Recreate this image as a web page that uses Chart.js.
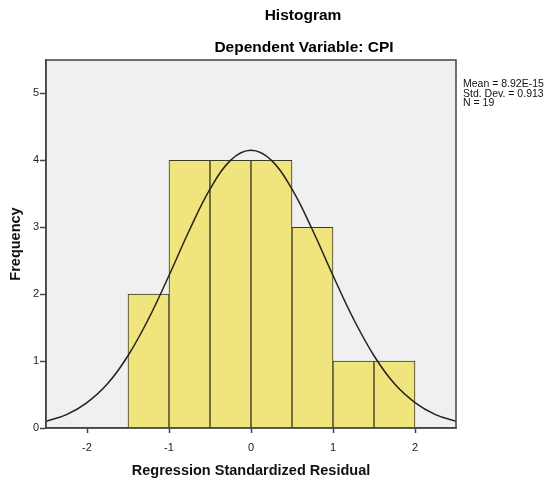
<!DOCTYPE html>
<html>
<head>
<meta charset="utf-8">
<script src="https://cdn.jsdelivr.net/npm/chart.js@4/dist/chart.umd.min.js"></script>
<style>
html,body{margin:0;padding:0;background:#fff;}
#wrap{width:550px;height:481px;}
</style>
</head>
<body>
<div id="wrap"><canvas id="c" width="550" height="481"></canvas></div>
<script>
// Histogram bins (centers) and frequencies
const binCenters = [-1.25, -0.75, -0.25, 0.25, 0.75, 1.25, 1.75];
const frequencies = [2, 4, 4, 4, 3, 1, 1];
// Normal curve points
const curveX = [-2.5,-2.25,-2,-1.75,-1.5,-1.25,-1,-0.75,-0.5,-0.25,0,0.25,0.5,0.75,1,1.25,1.5,1.75,2,2.25,2.5];
const curveY = [0.10,0.20,0.38,0.66,1.08,1.63,2.28,2.96,3.57,4.00,4.15,4.00,3.57,2.96,2.28,1.63,1.08,0.66,0.38,0.20,0.10];
const xTicks = [-2, -1, 0, 1, 2];
const yTicks = [0, 1, 2, 3, 4, 5];
const titleText = "Histogram";
const subtitleText = "Dependent Variable: CPI";
const statsLines = ["Mean = 8.92E-15", "Std. Dev. = 0.913", "N = 19"];

const FONT = "'Liberation Sans', Arial, sans-serif";

const decor = {
  id: 'decor',
  beforeDraw(chart) {
    const {ctx, chartArea: a} = chart;
    ctx.save();
    ctx.fillStyle = '#f0f0f0';
    ctx.fillRect(a.left, a.top, a.right - a.left, a.bottom - a.top);
    ctx.restore();
  },
  afterDraw(chart) {
    const {ctx, chartArea: a} = chart;
    ctx.save();
    ctx.strokeStyle = '#444';
    ctx.lineWidth = 1.5;
    ctx.strokeRect(a.left, a.top, a.right - a.left, a.bottom - a.top);
    ctx.fillStyle = '#000';
    ctx.textAlign = 'center';
    ctx.textBaseline = 'middle';
    ctx.font = "bold 15.5px " + FONT;
    ctx.fillText(titleText, 303, 16);
    ctx.fillText(subtitleText, 304, 48);
    ctx.textAlign = 'left';
    ctx.font = "10.5px " + FONT;
    ctx.fillStyle = '#111';
    statsLines.forEach((s, i) => ctx.fillText(s, 463, 84 + i * 9.8));
    ctx.restore();
  }
};

new Chart(document.getElementById('c'), {
  type: 'bar',
  data: {
    datasets: [
      {
        type: 'line',
        data: curveX.map((x, i) => ({x: x, y: curveY[i]})),
        borderColor: '#222',
        borderWidth: 1.5,
        pointRadius: 0,
        tension: 0.4,
        fill: false,
        order: 0
      },
      {
        type: 'bar',
        data: binCenters.map((x, i) => ({x: x, y: frequencies[i]})),
        backgroundColor: '#f0e47c',
        borderColor: '#3a3a2a',
        borderWidth: 1,
        barPercentage: 1.0,
        categoryPercentage: 1.0,
        order: 1
      }
    ]
  },
  options: {
    responsive: false,
    animation: false,
    devicePixelRatio: 1,
    layout: { padding: { top: 60, right: 94, left: 0, bottom: 0 } },
    plugins: { legend: { display: false }, tooltip: { enabled: false }, title: { display: false } },
    scales: {
      x: {
        type: 'linear',
        min: -2.5,
        max: 2.5,
        offset: false,
        afterBuildTicks: s => { s.ticks = xTicks.map(v => ({value: v})); },
        afterFit: s => { s.height = 53; },
        grid: { display: true, offset: false, drawOnChartArea: false, drawTicks: true, tickLength: 5, color: '#444', tickWidth: 1.5 },
        border: { display: true, color: '#444', width: 1.5 },
        ticks: { color: '#222', font: { family: FONT, size: 11 }, padding: 8, maxRotation: 0 },
        title: { display: true, text: 'Regression Standardized Residual', color: '#111', font: { family: FONT, size: 14.5, weight: 'bold' }, padding: { top: 4, bottom: 1 } }
      },
      y: {
        min: 0,
        max: 5.5,
        afterBuildTicks: s => { s.ticks = yTicks.map(v => ({value: v})); },
        afterFit: s => { s.width = 46; },
        grid: { display: true, drawOnChartArea: false, drawTicks: true, tickLength: 6, color: '#444', tickWidth: 1.5 },
        border: { display: true, color: '#444', width: 1.5 },
        ticks: { color: '#222', font: { family: FONT, size: 11 }, padding: 1 },
        title: { display: true, text: 'Frequency', color: '#111', font: { family: FONT, size: 14.5, weight: 'bold' }, padding: { top: 7.5, bottom: 0 } }
      }
    }
  },
  plugins: [decor]
});
</script>
</body>
</html>
